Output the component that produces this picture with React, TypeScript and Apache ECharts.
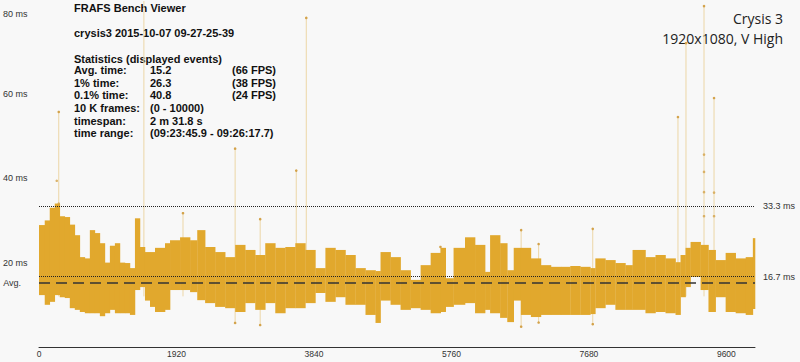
import React, { useEffect, useRef } from "react";
import * as echarts from "echarts";

// ---- data ----
const xTicks = [0, 1920, 3840, 5760, 7680, 9600];
const yTicks = [20, 40, 60, 80];

// band envelope: segment start frame, upper and lower frame time (ms)
const segStart = [0, 80, 150, 220, 290, 360, 430, 500, 570, 640, 710, 780, 850, 920, 990, 1060, 1130, 1200, 1270, 1340, 1410, 1480, 1550, 1620, 1760, 1830, 1970, 2110, 2210, 2320, 2460, 2600, 2740, 2880, 3020, 3160, 3300, 3440, 3580, 3720, 3860, 4000, 4140, 4280, 4420, 4560, 4700, 4770, 4910, 5050, 5190, 5330, 5470, 5610, 5680, 5790, 5950, 6090, 6230, 6300, 6440, 6540, 6630, 6730, 6870, 7010, 7150, 7290, 7420, 7560, 7700, 7770, 7910, 8050, 8190, 8290, 8470, 8610, 8750, 8890, 8960, 9030, 9100, 9240, 9350, 9450, 9590, 9730, 9870, 9970];
const segHigh = [28.9, 30, 33, 34, 31, 30.8, 29, 26.5, 21.3, 21, 27.7, 27, 24.6, 20, 24, 24.6, 20, 19.9, 18.7, 30.5, 23.7, 22.5, 22.5, 23.5, 24.6, 25.3, 26, 25.3, 27.7, 23.7, 22.5, 21.3, 24.2, 23, 21.8, 24.6, 23.5, 23.7, 24.6, 23, 18.7, 23.5, 23, 21.8, 18.7, 18.2, 18, 22.5, 21.3, 18.2, 15.9, 19.4, 22.3, 23.5, 16.3, 23.5, 26, 24.2, 17.8, 26.5, 24.6, 18.2, 23.5, 23.5, 21, 19.4, 19, 19, 19.2, 19, 18.7, 21, 20.6, 19.9, 19.4, 23, 21.3, 21.8, 21, 20.1, 21.8, 23.5, 24.9, 24.2, 23, 20.6, 22.3, 21, 21.3, 25.8];
const segLow = [12.3, 10, 10.7, 12.3, 11.8, 11.6, 9.2, 8.8, 8.3, 8, 8, 8, 7.3, 8, 8.8, 8, 8, 8, 7.6, 13.5, 14.2, 11, 9.5, 8.3, 8.8, 13.5, 13.5, 13, 11.1, 10.4, 9.5, 9.2, 8.3, 10.4, 8.8, 10.4, 8, 9.2, 9.2, 10.4, 12.8, 10.7, 11.8, 10, 10, 7.6, 5.7, 11, 10, 8.8, 9.2, 8.8, 8, 8.3, 9.5, 10, 10.4, 8, 8.8, 8, 6.9, 5.9, 11, 7.6, 7.1, 7.6, 7.6, 7.6, 7.6, 7.6, 7.8, 9.2, 10, 8.8, 8.8, 8.8, 8, 8.3, 8, 7.6, 11.8, 14.2, 16.6, 13.5, 8.3, 11.8, 8.3, 8, 7.6, 9];
const lastFrame = 10000;

// isolated long frames (spikes) and short frames
const spikeFrames = [276, 1465, 2011, 2739, 3089, 3593, 3733, 5607, 6734, 6978, 7734, 8924, 9036, 9288, 9428];
const spikeValues = [55.7, 85, 31.7, 47, 30.3, 41.8, 78, 23.7, 27.7, 24.4, 28, 54.5, 72, 80.8, 59];
const dipFrames = [2739, 3089, 6734, 6978, 7734];
const dipValues = [5.7, 5.2, 4.8, 5.8, 5.4];
const dotFrames = [248, 276, 9288, 9288, 9288, 9288, 9428, 9428];
const dotValues = [39.4, 34, 45.6, 41.5, 36.7, 31, 36.6, 31];

const refLines = [33.3, 16.7];
const avgTime = 15.2;

const titleLines = ["FRAFS Bench Viewer", "crysis3 2015-10-07 09-27-25-39", "Statistics (displayed events)"];
const statLabels = ["Avg. time:", "1% time:", "0.1% time:", "10 K frames:", "timespan:", "time range:"];
const statValues = ["15.2", "26.3", "40.8", "(0 - 10000)", "2 m 31.8 s", "(09:23:45.9 - 09:26:17.7)"];
const statFps = ["(66 FPS)", "(38 FPS)", "(24 FPS)", "", "", ""];
const gameTitle = ["Crysis 3", "1920x1080, V High"];

const GOLD = "#e1a82d";

export default function App() {
  const ref = useRef<HTMLDivElement>(null);
  useEffect(() => {
    document.body.style.margin = "0";
    const chart = echarts.init(ref.current!, null, { renderer: "svg" });
    const band = segStart.map((s, i) => [s, i + 1 < segStart.length ? segStart[i + 1] : lastFrame, segHigh[i], segLow[i]]);
    const spikes = spikeFrames.map((f, i) => [f, spikeValues[i]]).concat(dipFrames.map((f, i) => [f, dipValues[i]]));
    const dots = dotFrames.map((f, i) => [f, dotValues[i]]);
    const font = "'Liberation Sans', Arial, sans-serif";

    const graphics: any[] = [];
    const titleY = [9.3, 34.7, 60];
    titleLines.forEach((t, i) =>
      graphics.push({ type: "text", left: 74, top: titleY[i] - 7, style: { text: t, font: `bold 11px ${font}`, fill: "#111" } })
    );
    statLabels.forEach((t, i) => {
      const y = 71.7 + i * 12.6 - 7;
      graphics.push({ type: "text", left: 74, top: y, style: { text: t, font: `bold 11px ${font}`, fill: "#111" } });
      graphics.push({ type: "text", left: 150, top: y, style: { text: statValues[i], font: `bold 11px ${font}`, fill: "#111" } });
      if (statFps[i]) graphics.push({ type: "text", left: 232, top: y, style: { text: statFps[i], font: `bold 11px ${font}`, fill: "#111" } });
    });
    gameTitle.forEach((t, i) =>
      graphics.push({
        type: "text", right: 17, top: 11 + i * 20,
        style: { text: t, font: `14px 'Open Sans', sans-serif`, fill: "#222", align: "right" },
      })
    );

    chart.setOption({
      animation: false,
      backgroundColor: "#f8f8f8",
      grid: { left: 39, right: 45, top: 1, bottom: 15 },
      xAxis: {
        type: "value", min: 0, max: lastFrame, interval: 1920,
        axisLine: { show: true, lineStyle: { color: "#333", width: 1 } },
        axisTick: { show: false },
        splitLine: { show: false },
        axisLabel: {
          margin: 2, fontSize: 8.5, color: "#333", fontFamily: font,
          formatter: (v: number) => (xTicks.includes(v) ? String(v) : ""),
        },
      },
      yAxis: {
        type: "value", min: 0, max: 82, interval: 20,
        axisLine: { show: false }, axisTick: { show: false }, splitLine: { show: false },
        axisLabel: {
          margin: 36, align: "left", fontSize: 9, color: "#333", fontFamily: font,
          formatter: (v: number) => (v === 80 ? "{t|80 ms}" : yTicks.includes(v) ? `${v} ms` : ""),
          rich: { t: { padding: [9, 0, 0, 0], fontSize: 9, color: "#333", fontFamily: font } },
        },
      },
      graphic: graphics,
      series: [
        {
          type: "custom", z: 1, clip: true, data: spikes,
          renderItem: (_p: any, api: any) => {
            const top = api.coord([api.value(0), api.value(1)]);
            const base = api.coord([api.value(0), 12]);
            return {
              type: "group",
              children: [
                { type: "line", shape: { x1: base[0], y1: base[1], x2: top[0], y2: top[1] }, style: { stroke: "#ecd6a6", lineWidth: 1 } },
                { type: "circle", shape: { cx: top[0], cy: top[1], r: 1.3 }, style: { fill: "#d3a24a" } },
              ],
            };
          },
        },
        {
          type: "custom", z: 2, data: band,
          encode: { x: [0, 1], y: [2, 3] },
          renderItem: (_p: any, api: any) => {
            const a = api.coord([api.value(0), api.value(2)]);
            const b = api.coord([api.value(1), api.value(3)]);
            return { type: "rect", shape: { x: a[0], y: a[1], width: b[0] - a[0] + 0.3, height: b[1] - a[1] }, style: { fill: GOLD } };
          },
        },
        {
          type: "scatter", z: 3, data: dots, symbolSize: 2.6, itemStyle: { color: "#d3a24a" },
          markLine: {
            silent: true, symbol: ["none", "none"],
            data: [
              ...refLines.map((v) => ({
                yAxis: v,
                lineStyle: { type: "dotted", color: "#222", width: 1 },
                label: { show: true, position: "end", distance: 8, formatter: `${v} ms`, fontSize: 9, color: "#333", fontFamily: font },
              })),
              {
                yAxis: avgTime,
                lineStyle: { type: [11, 6], color: "#333", width: 1.6 },
                label: { show: true, position: "start", distance: 18, formatter: "Avg.", fontSize: 9, color: "#333", fontFamily: font },
              },
            ],
          },
        },
      ],
    });
    return () => chart.dispose();
  }, []);
  return <div ref={ref} style={{ width: 800, height: 362 }} />;
}
